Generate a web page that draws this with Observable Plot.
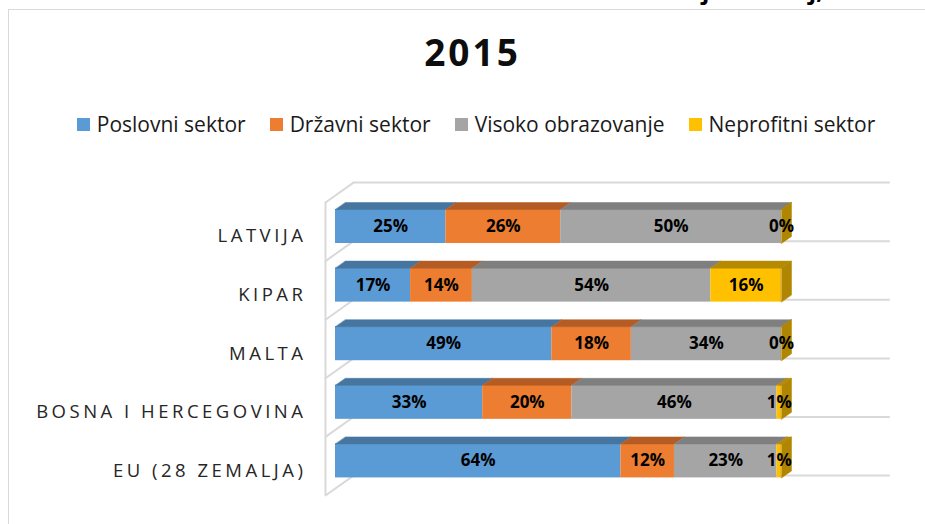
<!DOCTYPE html>
<html>
<head>
<meta charset="utf-8">
<script src="https://cdn.jsdelivr.net/npm/d3@7"></script>
<script src="https://cdn.jsdelivr.net/npm/@observablehq/plot@0.6"></script>
<style>
  body { margin: 0; background: #fff; font-family: "Open Sans", sans-serif; }
  #page { position: relative; width: 925px; height: 524px; overflow: hidden; background: #fff; }
  #frame { position: absolute; left: 8px; top: 9px; width: 1000px; height: 600px; border: 1.5px solid #d9d9d9; box-sizing: border-box; }
  #heading { position: absolute; right: 102px; top: -22px; font: 700 24px/24px "Open Sans", sans-serif; white-space: nowrap; color: #000; }
  #title { position: absolute; left: 0; width: 945px; top: 32px; text-align: center; font: 700 37px/1.1 "Open Sans", sans-serif; letter-spacing: 3px; color: #0d0d0d; }
  #legend { position: absolute; left: 0; width: 952px; top: 110px; display: flex; justify-content: center; gap: 24px; font: 400 21px/28px "Open Sans", sans-serif; color: #1a1a1a; }
  .item { display: flex; align-items: center; }
  .swatch { width: 13px; height: 13px; margin-right: 7px; }
  #chart { position: absolute; left: 0; top: 150px; }
  #chart svg [aria-label="y-axis tick label"] text { letter-spacing: 3.5px; }
</style>
</head>
<body>
<div id="page">
  <div id="frame"></div>
  <div id="heading">istraživanje i razvoj,</div>
  <div id="title">2015</div>
  <div id="legend"></div>
  <div id="chart"></div>
</div>
<script>
// Category and series data
const categories = ["LATVIJA", "KIPAR", "MALTA", "BOSNA I HERCEGOVINA", "EU (28 ZEMALJA)"];
const sectors = ["Poslovni sektor", "Državni sektor", "Visoko obrazovanje", "Neprofitni sektor"];
const poslovniSektor    = [25, 17, 49, 33, 64];
const drzavniSektor     = [26, 14, 18, 20, 12];
const visokoObrazovanje = [50, 54, 34, 46, 23];
const neprofitniSektor  = [0, 16, 0, 1, 1];
const seriesValues = [poslovniSektor, drzavniSektor, visokoObrazovanje, neprofitniSektor];

// Face colours per sector: front, top and side shading
const frontColors = ["#5b9bd5", "#ed7d31", "#a5a5a5", "#ffc000"];
const topColors   = ["#46769f", "#b45c24", "#7f7f7f", "#b58a00"];
const sideColors  = ["#3f6a91", "#a55420", "#737373", "#b08500"];
const GRID = "#d9d9d9";

// Pseudo-3D geometry, in scale units (x: share of total, y: category slot)
const DEPTH_X = 0.0224, DEPTH_Y = -0.12;       // bar depth
const WALL_X0 = -0.0224;                         // front edge of side wall
const WALL_DX = 0.0628, WALL_DY = -0.34;         // wall depth
const WALL_END = 1.244;                          // right end of back wall lines
const BAR_TOP = 0.12, BAR_BOTTOM = 0.70;
const LABEL_POS = 0.58;

// 100% stacked layout
const rows = [];
categories.forEach((country, i) => {
  const vals = seriesValues.map(s => s[i]);
  const total = d3.sum(vals);
  let cum = 0;
  vals.forEach((v, k) => {
    rows.push({country, i, k, sector: sectors[k], value: v, x1: cum / total, x2: (cum + v) / total});
    cum += v;
  });
});

// Top faces (parallelograms) and the right-hand side face of each bar
const topPts = rows.flatMap((d, n) => {
  const y = d.i + BAR_TOP;
  return [
    {id: n, k: d.k, x: d.x1, y},
    {id: n, k: d.k, x: d.x2, y},
    {id: n, k: d.k, x: d.x2 + DEPTH_X, y: y + DEPTH_Y},
    {id: n, k: d.k, x: d.x1 + DEPTH_X, y: y + DEPTH_Y}
  ];
});
const lastK = sectors.length - 1;
const sidePts = rows.filter(d => d.k === lastK).flatMap((d, n) => {
  const yt = d.i + BAR_TOP, yb = d.i + BAR_BOTTOM;
  return [
    {id: n, x: d.x2, y: yt},
    {id: n, x: d.x2 + DEPTH_X, y: yt + DEPTH_Y},
    {id: n, x: d.x2 + DEPTH_X, y: yb + DEPTH_Y},
    {id: n, x: d.x2, y: yb}
  ];
});

// Wall: slanted floor edges on the left side wall
const levels = d3.range(categories.length + 1);
const wallSlants = levels.flatMap(l => [
  {id: l, x: WALL_X0, y: l},
  {id: l, x: WALL_X0 + WALL_DX, y: l + WALL_DY}
]);

const marks = [
  Plot.line(wallSlants, {x: "x", y: "y", z: "id", stroke: GRID, strokeWidth: 2}),
  Plot.ruleY(levels, {y: d => d + WALL_DY, x1: WALL_X0 + WALL_DX, x2: WALL_END, stroke: GRID, strokeWidth: 2}),
  Plot.ruleX([WALL_X0], {y1: 0, y2: categories.length, stroke: GRID, strokeWidth: 2})
];

sectors.forEach((s, k) => {
  marks.push(Plot.rect(rows.filter(d => d.k === k), {
    x1: "x1", x2: "x2", y1: d => d.i + BAR_TOP, y2: d => d.i + BAR_BOTTOM, fill: frontColors[k]
  }));
  marks.push(Plot.line(topPts.filter(d => d.k === k), {
    x: "x", y: "y", z: "id", fill: topColors[k], stroke: topColors[k], strokeWidth: 0.5, curve: "linear-closed"
  }));
});
marks.push(Plot.line(sidePts, {x: "x", y: "y", z: "id", fill: sideColors[lastK], stroke: sideColors[lastK], strokeWidth: 0.5, curve: "linear-closed"}));

marks.push(Plot.text(rows, {
  x: d => (d.x1 + d.x2) / 2, y: d => d.i + (BAR_TOP + BAR_BOTTOM) / 2,
  text: d => d.value + "%", fontSize: 17, fontWeight: 700, fill: "#000"
}));

marks.push(Plot.axisY(categories.map((c, i) => i + LABEL_POS), {
  anchor: "left", tickSize: 0, tickPadding: 4, fontSize: 18.5, fill: "#262626",
  tickFormat: d => categories[Math.round(d - LABEL_POS)], label: null
}));

const chart = Plot.plot({
  width: 925,
  height: 374,
  marginLeft: 310,
  marginTop: 0, marginBottom: 0, marginRight: 0,
  x: {domain: [0, 1], range: [335, 781], axis: null},
  y: {domain: [0, categories.length], range: [52, 345], axis: null},
  style: {fontFamily: "Open Sans", background: "transparent", overflow: "visible"},
  marks
});
document.getElementById("chart").appendChild(chart);

// Legend
const legend = d3.select("#legend");
sectors.forEach((s, k) => {
  const item = legend.append("div").attr("class", "item");
  item.append("div").attr("class", "swatch").style("background", frontColors[k]);
  item.append("span").text(s);
});
</script>
</body>
</html>
